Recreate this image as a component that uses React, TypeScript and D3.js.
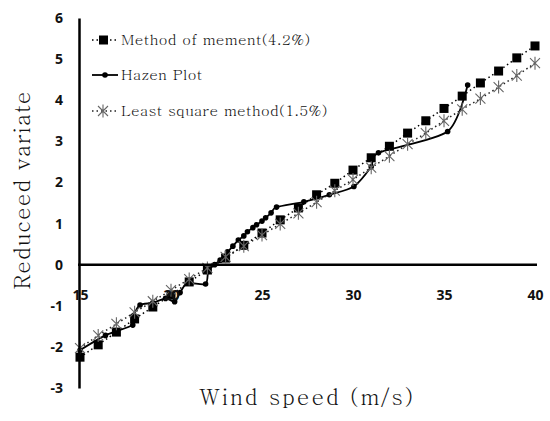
import React, { useEffect, useRef } from "react";
import * as d3 from "d3";

// Method of moment (fitted) - integer wind speeds
const momSpeed = [15, 16, 17, 18, 19, 20, 21, 22, 23, 24, 25, 26, 27, 28, 29, 30, 31, 32, 33, 34, 35, 36, 37, 38, 39, 40];
const momValue = [-2.25, -1.95, -1.64, -1.32, -1.03, -0.74, -0.42, -0.13, 0.16, 0.47, 0.77, 1.09, 1.38, 1.7, 1.98, 2.3, 2.6, 2.88, 3.2, 3.5, 3.8, 4.1, 4.42, 4.71, 5.03, 5.32];

// Least square method (fitted)
const lsmSpeed = momSpeed;
const lsmValue = [-2.03, -1.72, -1.44, -1.16, -0.89, -0.62, -0.35, -0.08, 0.19, 0.45, 0.72, 0.99, 1.25, 1.52, 1.8, 2.07, 2.36, 2.64, 2.93, 3.2, 3.5, 3.78, 4.04, 4.32, 4.6, 4.9];

// Hazen plotting positions (observed)
const hazenSpeed = [15.0, 16.4, 17.9, 17.95, 18.3, 19.0, 19.7, 20.2, 20.5, 20.9, 21.9, 22.05, 22.4, 22.7, 23.1, 23.4, 23.7, 24.0, 24.2, 24.5, 24.7, 25.0, 25.2, 25.5, 25.8, 27.3, 28.7, 30.05, 31.0, 31.4, 35.2, 36.3];
const hazenValue = [-2.08, -1.72, -1.47, -1.24, -0.98, -0.93, -0.82, -0.9, -0.68, -0.45, -0.47, -0.14, 0.0, 0.11, 0.31, 0.45, 0.6, 0.7, 0.8, 0.9, 0.97, 1.06, 1.14, 1.26, 1.4, 1.53, 1.7, 1.9, 2.38, 2.72, 3.24, 4.37];

const xTicks = [15, 20, 25, 30, 35, 40];
const yTicks = [-3, -2, -1, 0, 1, 2, 3, 4, 5, 6];

const legendLabels = ["Method of mement(4.2%)", "Hazen Plot", "Least square method(1.5%)"];

const SERIF = "Batang, 'DejaVu Serif', serif";
const SANS = "'Malgun Gothic', 'Noto Sans', sans-serif";

export default function App() {
  const svgRef = useRef<SVGSVGElement>(null);

  useEffect(() => {
    if (!svgRef.current) return;
    const svg = d3.select(svgRef.current);
    svg.selectAll("*").remove();

    const width = 550;
    const height = 421;

    const x = d3.scaleLinear().domain([15, 40]).range([80, 535]);
    const y = d3.scaleLinear().domain([-3, 6]).range([388, 18]);

    svg.append("rect").attr("width", width).attr("height", height).attr("fill", "#fff");

    const momData = momSpeed.map((s, i) => [s, momValue[i]] as [number, number]);
    const lsmData = lsmSpeed.map((s, i) => [s, lsmValue[i]] as [number, number]);
    const hazenData = hazenSpeed.map((s, i) => [s, hazenValue[i]] as [number, number]);

    const straight = d3
      .line<[number, number]>()
      .x((d) => x(d[0]))
      .y((d) => y(d[1]));
    const smooth = d3
      .line<[number, number]>()
      .x((d) => x(d[0]))
      .y((d) => y(d[1]))
      .curve(d3.curveCardinal.tension(0.25));

    const plot = svg.append("g");

    // Method of moment
    plot
      .append("path")
      .datum(momData)
      .attr("d", straight)
      .attr("fill", "none")
      .attr("stroke", "#000")
      .attr("stroke-width", 1.5)
      .attr("stroke-dasharray", "1.5,3");
    plot
      .selectAll(".mom")
      .data(momData)
      .join("rect")
      .attr("x", (d) => x(d[0]) - 4.5)
      .attr("y", (d) => y(d[1]) - 4.5)
      .attr("width", 9)
      .attr("height", 9)
      .attr("fill", "#000");

    // Hazen plot
    plot
      .append("path")
      .datum(hazenData)
      .attr("d", smooth)
      .attr("fill", "none")
      .attr("stroke", "#000")
      .attr("stroke-width", 1.8);
    plot
      .selectAll(".hz")
      .data(hazenData)
      .join("circle")
      .attr("cx", (d) => x(d[0]))
      .attr("cy", (d) => y(d[1]))
      .attr("r", 2.8)
      .attr("fill", "#000");

    // Least square method
    plot
      .append("path")
      .datum(lsmData)
      .attr("d", straight)
      .attr("fill", "none")
      .attr("stroke", "#222")
      .attr("stroke-width", 1.5)
      .attr("stroke-dasharray", "1.5,3");
    const star = (cx: number, cy: number, r: number) =>
      `M${cx - r},${cy - r}L${cx + r},${cy + r}M${cx - r},${cy + r}L${cx + r},${cy - r}M${cx},${cy - r * 1.3}L${cx},${cy + r * 1.3}`;
    plot
      .selectAll(".lsm")
      .data(lsmData)
      .join("path")
      .attr("d", (d) => star(x(d[0]), y(d[1]), 5))
      .attr("fill", "none")
      .attr("stroke", "#666")
      .attr("stroke-width", 1.1);

    // Y axis
    const yAxis = d3
      .axisLeft(y)
      .tickValues(yTicks)
      .tickSize(0)
      .tickSizeOuter(0)
      .tickPadding(16)
      .tickFormat((d) => `${d}`);
    const yg = svg.append("g").attr("transform", `translate(${x(15) - 1},0)`).call(yAxis);
    yg.select(".domain").attr("stroke", "#000").attr("stroke-width", 2.5);
    yg.selectAll("text")
      .attr("font-family", SANS)
      .attr("font-weight", "bold")
      .attr("font-size", 14)
      .attr("fill", "#111");

    // X axis at zero
    const xAxis = d3
      .axisBottom(x)
      .tickValues(xTicks)
      .tickSize(0)
      .tickSizeOuter(0)
      .tickPadding(25)
      .tickFormat((d) => `${d}`);
    const xg = svg.append("g").attr("transform", `translate(0,${y(0)})`).call(xAxis);
    xg.select(".domain")
      .attr("d", `M${x(15) - 2},0H${x(40) + 2}`)
      .attr("stroke", "#000")
      .attr("stroke-width", 2.5);
    xg.selectAll("text")
      .attr("font-family", SANS)
      .attr("font-weight", "bold")
      .attr("font-size", 14)
      .attr("fill", "#111");

    // Axis titles
    svg
      .append("text")
      .attr("x", 307)
      .attr("y", 405)
      .attr("text-anchor", "middle")
      .attr("font-family", SERIF)
      .attr("font-size", 22)
      .attr("letter-spacing", 2)
      .attr("fill", "#111")
      .text("Wind speed (m/s)");

    svg
      .append("text")
      .attr("transform", `translate(30,190) rotate(-90)`)
      .attr("text-anchor", "middle")
      .attr("font-family", SERIF)
      .attr("font-size", 22)
      .attr("letter-spacing", 1)
      .attr("fill", "#111")
      .text("Reduceed variate");

    // Legend
    const lg = svg.append("g");
    const rows = [40, 75, 111];
    lg.append("line").attr("x1", 92).attr("x2", 117).attr("y1", rows[0]).attr("y2", rows[0])
      .attr("stroke", "#000").attr("stroke-width", 1.5).attr("stroke-dasharray", "1.5,3");
    lg.append("rect").attr("x", 99).attr("y", rows[0] - 4.5).attr("width", 9).attr("height", 9).attr("fill", "#000");
    lg.append("line").attr("x1", 92).attr("x2", 118).attr("y1", rows[1]).attr("y2", rows[1])
      .attr("stroke", "#000").attr("stroke-width", 1.8);
    lg.append("circle").attr("cx", 105).attr("cy", rows[1]).attr("r", 2.8).attr("fill", "#000");
    lg.append("line").attr("x1", 92).attr("x2", 117).attr("y1", rows[2]).attr("y2", rows[2])
      .attr("stroke", "#222").attr("stroke-width", 1.5).attr("stroke-dasharray", "1.5,3");
    lg.append("path").attr("d", star(103, rows[2], 5)).attr("fill", "none").attr("stroke", "#666").attr("stroke-width", 1.1);

    lg.selectAll(".lt")
      .data(legendLabels)
      .join("text")
      .attr("x", 121)
      .attr("y", (_d, i) => rows[i])
      .attr("dy", "0.35em")
      .attr("font-family", SERIF)
      .attr("font-size", 15)
      .attr("letter-spacing", 0.4)
      .attr("fill", "#111")
      .text((d) => d);
  }, []);

  return (
    <svg
      ref={svgRef}
      width={550}
      height={421}
      viewBox="0 0 550 421"
      style={{ position: "absolute", left: 0, top: 0, display: "block" }}
    />
  );
}
